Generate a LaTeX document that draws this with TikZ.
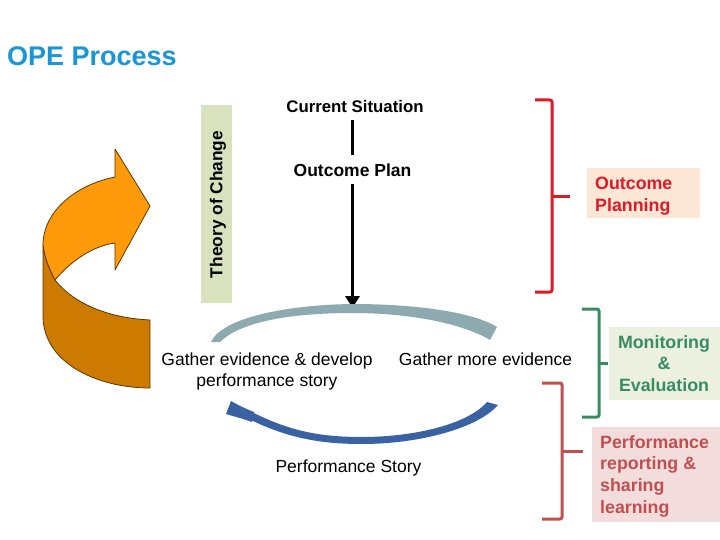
\documentclass[tikz,border=0pt]{standalone}
\usepackage{fontspec}
\setmainfont{Liberation Sans}
\usetikzlibrary{arrows.meta,calc}
\definecolor{titleblue}{RGB}{28,150,210}
\definecolor{tocbg}{RGB}{216,227,190}
\definecolor{orlight}{RGB}{255,155,10}
\definecolor{ordark}{RGB}{205,122,0}
\definecolor{orline}{RGB}{90,55,0}
\definecolor{arcgrey}{RGB}{140,170,175}
\definecolor{arcblue}{RGB}{58,98,162}
\definecolor{opred}{RGB}{222,26,40}
\definecolor{opbg}{RGB}{252,230,214}
\definecolor{megreen}{RGB}{55,140,100}
\definecolor{mebg}{RGB}{235,241,222}
\definecolor{prred}{RGB}{192,80,80}
\definecolor{prbg}{RGB}{242,221,220}
\newcommand\fbody{\fontsize{17.5}{21.5}\selectfont}
\newcommand\fside{\fontsize{17.8}{21.7}\selectfont\bfseries}
\tikzset{
  txt/.style={inner sep=0pt, anchor=base},
  bracketline/.style={line width=3pt, line join=round, rounded corners=2pt},
  flow/.style={line width=3.5pt, black},
}
\begin{document}
\begin{tikzpicture}[x=1pt,y=-1pt]
\useasboundingbox[fill=white] (0,0) rectangle (720,540);

% title
\node[txt, anchor=base west, font=\fontsize{27}{30}\selectfont\bfseries, text=titleblue] (title) at (7,66) {OPE Process};

% orange curved arrow
\filldraw[fill=ordark, draw=orline, line width=0.8pt, line join=round]
  (43,245) -- (43,318) .. controls (45,365) and (100,388) .. (150,388)
  -- (150,320) .. controls (110,318) and (75,305) .. (55,280)
  .. controls (50,270) and (45,260) .. (43,245) -- cycle;
\filldraw[fill=orlight, draw=orline, line width=0.8pt, line join=round]
  (115,177) .. controls (75,185) and (43,212) .. (43,245)
  .. controls (45,260) and (50,270) .. (55,280)
  .. controls (70,262) and (92,246) .. (115,243)
  -- (115,270) -- (150,206) -- (115,149) -- cycle;

% theory of change
\fill[tocbg] (201,105) rectangle (232,303);
\node[inner sep=0pt, rotate=90, font=\fontsize{17.3}{20}\selectfont\bfseries] (toc) at (218,204.5) {Theory of Change};

% centre column
\node[txt, font=\fontsize{16.8}{20}\selectfont\bfseries] (cs) at (355,113) {Current Situation};
\node[txt, font=\fontsize{17.5}{20}\selectfont\bfseries] (op) at (352.5,177) {Outcome Plan};
\coordinate (arctop) at (352.5,308);
\draw[flow] ($(op.north |- cs.south)+(0,7)$) -- ($(op.north)+(0,-9)$);
\draw[flow, -{Triangle[width=14pt,length=12pt]}] ($(op.south)+(0,7)$) -- (arctop);

% grey arc
\fill[arcgrey] (211,342) .. controls (222,318) and (285,305) .. (352,304)
  .. controls (420,304) and (475,313) .. (497,327) -- (490,340)
  .. controls (465,325) and (415,313) .. (352,313)
  .. controls (290,313) and (240,322) .. (220,342) -- cycle;

% blue arc
\fill[arcblue] (243,416) .. controls (285,438) and (320,444) .. (362,444)
  .. controls (420,444) and (478,428) .. (498,405) -- (487,402)
  .. controls (468,424) and (415,437) .. (362,437)
  .. controls (322,437) and (290,432) .. (248,410) -- cycle;
\fill[arcblue] (231,401) -- (226,414) .. controls (236,417) and (244,419) .. (252,422)
  -- (254,412) .. controls (246,409) and (238,405) .. (231,401) -- cycle;

% loop texts (base = baseline of last line)
\node[txt, font=\fbody, align=center] (ge) at (267,386.5) {Gather evidence \& develop\\performance story};
\node[txt, font=\fbody] (gm) at (485.5,365) {Gather more evidence};
\node[txt, font=\fbody] (ps) at (348.5,472) {Performance Story};

% outcome planning bracket
\draw[bracketline, opred] (535,100) -- (552,100) -- (552,292) -- (535,292);
\draw[line width=3pt, opred] (552,197) -- (570,197);
\fill[opbg] (587,168) rectangle (700,218);
\node[txt, anchor=base west, font=\fside, text=opred, align=left] (opl) at (595,211.7) {Outcome\\Planning};

% monitoring bracket
\draw[bracketline, megreen] (582,309) -- (599,309) -- (599,417) -- (582,417);
\draw[line width=3pt, megreen] (599,363) -- (608,363);
\fill[mebg] (609,327) rectangle (720,400);
\node[txt, font=\fside, text=megreen, align=center] (me) at (664,391.4) {Monitoring\\\&\\Evaluation};

% performance reporting bracket
\draw[bracketline, prred] (542,383) -- (562,383) -- (562,519) -- (542,519);
\draw[line width=3pt, prred] (562,451) -- (583,451);
\fill[prbg] (592,427) rectangle (720,522);
\node[txt, anchor=base west, font=\fside, text=prred, align=left] (prl) at (600,513.1) {Performance\\reporting \&\\sharing\\learning};
\end{tikzpicture}
\end{document}
